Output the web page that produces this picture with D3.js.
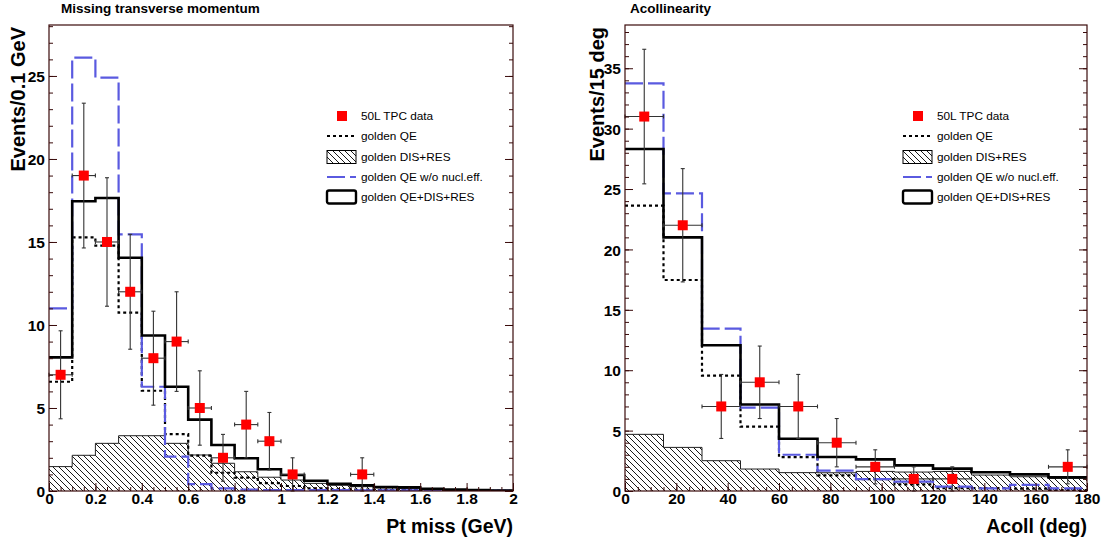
<!DOCTYPE html>
<html><head><meta charset="utf-8">
<script src="https://cdn.jsdelivr.net/npm/d3@7"></script>
<style>
body{margin:0;background:#fff}
svg{display:block}
text{font-family:"Liberation Sans",Arial,Helvetica,sans-serif}
</style>
</head><body>
<svg id="c" width="1113" height="544"></svg>
<script>
// ---------------- DATA: Missing transverse momentum ----------------
const ptEdges = [0,0.1,0.2,0.3,0.4,0.5,0.6,0.7,0.8,0.9,1.0,1.1,1.2,1.3,1.4,1.5,1.6,1.7,1.8,1.9,2.0];
const ptDisRes = [1.47,2.15,2.87,3.33,3.33,2.87,2.17,1.67,1.16,0.83,0.66,0.46,0.34,0.26,0.18,0.16,0.10,0.06,0.04,0.02];
const ptQE     = [6.58,15.28,14.78,10.74,6.04,3.42,2.13,1.10,0.80,0.48,0.30,0.16,0.10,0.08,0.06,0.06,0.04,0.02,0.02,0.01];
const ptTotal  = [8.05,17.45,17.65,14.05,9.37,6.28,4.30,2.77,1.97,1.31,0.96,0.62,0.44,0.34,0.24,0.22,0.14,0.08,0.06,0.03];
const ptNoNuc  = [11.0,26.1,24.9,15.46,6.28,2.07,0.42,0.16,0.08,0.06,0.06,0.05,0.05,0.04,0.04,0.04,0.03,0.03,0.03,0.03];
const ptDataX  = [0.05,0.15,0.25,0.35,0.45,0.55,0.65,0.75,0.85,0.95,1.05,1.35];
const ptDataY  = [7,19,15,12,8,9,5,2,4,3,1,1];
const ptDataErr= [2.65,4.36,3.87,3.46,2.83,3.0,2.24,1.41,2.0,1.73,1.0,1.0];
const ptHalfBin= 0.05;
const ptTickVals = [0,0.2,0.4,0.6,0.8,1.0,1.2,1.4,1.6,1.8,2.0];
const ptTickLabels = ["0","0.2","0.4","0.6","0.8","1","1.2","1.4","1.6","1.8","2"];
const ptYTicks = [0,5,10,15,20,25];

// ---------------- DATA: Acollinearity ----------------
const acEdges = [0,15,30,45,60,75,90,105,120,135,150,165,180];
const acDisRes = [4.69,3.61,2.51,1.82,1.52,1.51,1.62,1.57,1.62,1.32,1.18,1.05];
const acQE     = [23.62,17.47,9.55,5.33,2.81,1.30,0.98,0.55,0.23,0.23,0.20,0.08];
const acTotal  = [28.31,21.0,12.07,7.16,4.33,2.81,2.62,2.12,1.85,1.55,1.38,1.13];
const acNoNuc  = [33.75,24.64,13.44,6.9,3.0,1.68,0.99,0.77,0.36,0.22,0.5,0.22];
const acDataX  = [7.5,22.5,37.5,52.5,67.5,82.5,97.5,112.5,127.5,172.5];
const acDataY  = [31,22,7,9,7,4,2,1,1,2];
const acDataErr= [5.57,4.69,2.65,3.0,2.65,2.0,1.41,1.0,1.0,1.41];
const acHalfBin= 7.5;
const acTickVals = [0,20,40,60,80,100,120,140,160,180];
const acTickLabels = ["0","20","40","60","80","100","120","140","160","180"];
const acYTicks = [0,5,10,15,20,25,30,35];

const legendLabels = ["50L TPC data","golden QE","golden DIS+RES","golden QE w/o nucl.eff.","golden QE+DIS+RES"];

// ---------------- DRAWING ----------------
const svg = d3.select("#c");
const defs = svg.append("defs");
const pat = defs.append("pattern").attr("id","hatch").attr("patternUnits","userSpaceOnUse")
  .attr("width",6).attr("height",6);
pat.append("path").attr("d","M-1,-1 L7,7 M-1,5 L1,7 M5,-1 L7,1").attr("stroke","#000").attr("stroke-width",0.9);

const frameColor = "#3a0b0b";
const blue = "#5a5ae0";

function panel(cfg){
  const w = cfg.x1-cfg.x0, h = cfg.y1-cfg.y0;
  const g = svg.append("g").attr("transform",`translate(${cfg.x0},${cfg.y0})`);
  const x = d3.scaleLinear().domain(cfg.xDomain).range([0,w]);
  const y = d3.scaleLinear().domain([0,cfg.yMax]).range([h,0]);
  const cid = "clip"+cfg.id;
  defs.append("clipPath").attr("id",cid).append("rect").attr("width",w).attr("height",h);
  const pg = g.append("g").attr("clip-path",`url(#${cid})`);

  const steps = vals => cfg.edges.map((e,i)=>[e, vals[Math.min(i, vals.length-1)]]);
  const line = d3.line().curve(d3.curveStepAfter).x(d=>x(d[0])).y(d=>y(d[1]));
  const area = d3.area().curve(d3.curveStepAfter).x(d=>x(d[0])).y0(h).y1(d=>y(d[1]));

  pg.append("path").datum(steps(cfg.dis)).attr("d",area).attr("fill","url(#hatch)");
  pg.append("path").datum(steps(cfg.dis)).attr("d",line).attr("fill","none").attr("stroke","#222").attr("stroke-width",1);
  pg.append("path").datum(steps(cfg.qe)).attr("d",line).attr("fill","none").attr("stroke","#000")
    .attr("stroke-width",2.2).attr("stroke-dasharray","3,3");
  pg.append("path").datum(steps(cfg.nonuc)).attr("d",line).attr("fill","none").attr("stroke",blue)
    .attr("stroke-width",2.2).attr("stroke-dasharray","18,5");
  pg.append("path").datum(steps(cfg.total)).attr("d",line).attr("fill","none").attr("stroke","#000")
    .attr("stroke-width",2.6);

  // data points
  const pts = cfg.dx.map((v,i)=>({x:v, y:cfg.dy[i], e:cfg.de[i]}));
  const pgp = g.append("g");
  pts.forEach(p=>{
    const cx=x(p.x), cy=y(p.y), yt=y(p.y+p.e), yb=y(Math.max(0,p.y-p.e));
    const xl=x(p.x-cfg.hb), xr=x(p.x+cfg.hb);
    const eg = pgp.append("g").attr("stroke","#333").attr("stroke-width",1.1);
    eg.append("line").attr("x1",cx).attr("x2",cx).attr("y1",yt).attr("y2",yb);
    eg.append("line").attr("x1",xl).attr("x2",xr).attr("y1",cy).attr("y2",cy);
    eg.append("line").attr("x1",cx-2).attr("x2",cx+2).attr("y1",yt).attr("y2",yt);
    eg.append("line").attr("x1",cx-2).attr("x2",cx+2).attr("y1",yb).attr("y2",yb);
    eg.append("line").attr("x1",xl).attr("x2",xl).attr("y1",cy-2).attr("y2",cy+2);
    eg.append("line").attr("x1",xr).attr("x2",xr).attr("y1",cy-2).attr("y2",cy+2);
    pgp.append("rect").attr("x",cx-5).attr("y",cy-5).attr("width",10).attr("height",10).attr("fill","#f00");
  });

  // axes
  const styleAxis = (sel)=>{ sel.select(".domain").remove(); sel.selectAll(".tick line").attr("stroke",frameColor).attr("stroke-width",1); };
  const xMinor = d3.range(cfg.xDomain[0], cfg.xDomain[1]+cfg.xMinorStep/2, cfg.xMinorStep);
  g.append("g").attr("transform",`translate(0,${h})`)
    .call(d3.axisBottom(x).tickValues(xMinor).tickSize(-4).tickFormat(""))
    .call(styleAxis);
  const xa = g.append("g").attr("transform",`translate(0,${h})`)
    .call(d3.axisBottom(x).tickValues(cfg.xTicks).tickSize(-8).tickPadding(0).tickFormat((d,i)=>cfg.xLabels[i]))
    .call(styleAxis);
  xa.selectAll("text").attr("y",13).attr("dy","0").attr("fill","#000")
    .style("font-size","15.5px").style("font-weight","bold").style("font-family","Liberation Sans, Arial, sans-serif");

  const yMinor = d3.range(0, Math.floor(cfg.yMax)+1, 1);
  [0,w].forEach((xx,k)=>{
    const ax = k===0 ? d3.axisLeft(y) : d3.axisRight(y);
    g.append("g").attr("transform",`translate(${xx},0)`)
      .call(ax.tickValues(yMinor).tickSize(-4).tickFormat("")).call(styleAxis);
    const ya = g.append("g").attr("transform",`translate(${xx},0)`)
      .call((k===0?d3.axisLeft(y):d3.axisRight(y)).tickValues(cfg.yTicks).tickSize(-8).tickPadding(12)
        .tickFormat(k===0? d3.format("d") : ""))
      .call(styleAxis);
    ya.selectAll("text").attr("fill","#000").attr("x",-4).attr("dy","0.36em")
      .style("font-size","15.5px").style("font-weight","bold").style("font-family","Liberation Sans, Arial, sans-serif");
  });

  // frame
  g.append("rect").attr("width",w).attr("height",h).attr("fill","none").attr("stroke",frameColor).attr("stroke-width",1.2);

  // titles
  svg.append("text").attr("x",cfg.titleX).attr("y",13).text(cfg.title)
    .style("font-size","13.5px").style("font-weight","bold");
  svg.append("text").attr("x",cfg.x1).attr("y",533).attr("text-anchor","end").text(cfg.xTitle)
    .style("font-size","19.5px").style("font-weight","bold");
  svg.append("text").attr("transform",`translate(${cfg.yTitleX},${cfg.y0+2}) rotate(-90)`).attr("text-anchor","end")
    .text(cfg.yTitle).style("font-size","20px").style("font-weight","bold");

  // legend
  const lg = g.append("g").attr("transform","translate(278,0)");
  const rows = [91,111,132,152,172];
  const tx = 34;
  legendLabels.forEach((t,i)=>{
    lg.append("text").attr("x",tx).attr("y",rows[i]).attr("dy","0.35em").text(t).style("font-size","11.8px");
  });
  lg.append("rect").attr("x",14-5+1).attr("y",rows[0]-5).attr("width",10).attr("height",10).attr("fill","#f00");
  lg.append("line").attr("x1",0).attr("x2",27).attr("y1",rows[1]).attr("y2",rows[1]).attr("stroke","#000")
    .attr("stroke-width",2.2).attr("stroke-dasharray","3,3");
  lg.append("rect").attr("x",0).attr("y",rows[2]-6.5).attr("width",29).attr("height",13).attr("fill","url(#hatch)")
    .attr("stroke","#000").attr("stroke-width",1);
  lg.append("line").attr("x1",0).attr("x2",29).attr("y1",rows[3]).attr("y2",rows[3]).attr("stroke",blue)
    .attr("stroke-width",2.2).attr("stroke-dasharray","18,5");
  lg.append("rect").attr("x",0).attr("y",rows[4]-6.5).attr("width",29).attr("height",13).attr("rx",2).attr("fill","#fff")
    .attr("stroke","#000").attr("stroke-width",2.4);
}

panel({id:"pt", x0:49, x1:513, y0:25, y1:491, xDomain:[0,2], yMax:28.07,
  edges:ptEdges, dis:ptDisRes, qe:ptQE, total:ptTotal, nonuc:ptNoNuc,
  dx:ptDataX, dy:ptDataY, de:ptDataErr, hb:ptHalfBin,
  xTicks:ptTickVals, xLabels:ptTickLabels, xMinorStep:0.05, yTicks:ptYTicks,
  title:"Missing transverse momentum", titleX:61, xTitle:"Pt miss (GeV)", yTitle:"Events/0.1 GeV", yTitleX:25});

panel({id:"ac", x0:625, x1:1087, y0:25, y1:491, xDomain:[0,180], yMax:38.58,
  edges:acEdges, dis:acDisRes, qe:acQE, total:acTotal, nonuc:acNoNuc,
  dx:acDataX, dy:acDataY, de:acDataErr, hb:acHalfBin,
  xTicks:acTickVals, xLabels:acTickLabels, xMinorStep:5, yTicks:acYTicks,
  title:"Acollinearity", titleX:630, xTitle:"Acoll (deg)", yTitle:"Events/15 deg", yTitleX:604});
</script>
</body></html>
